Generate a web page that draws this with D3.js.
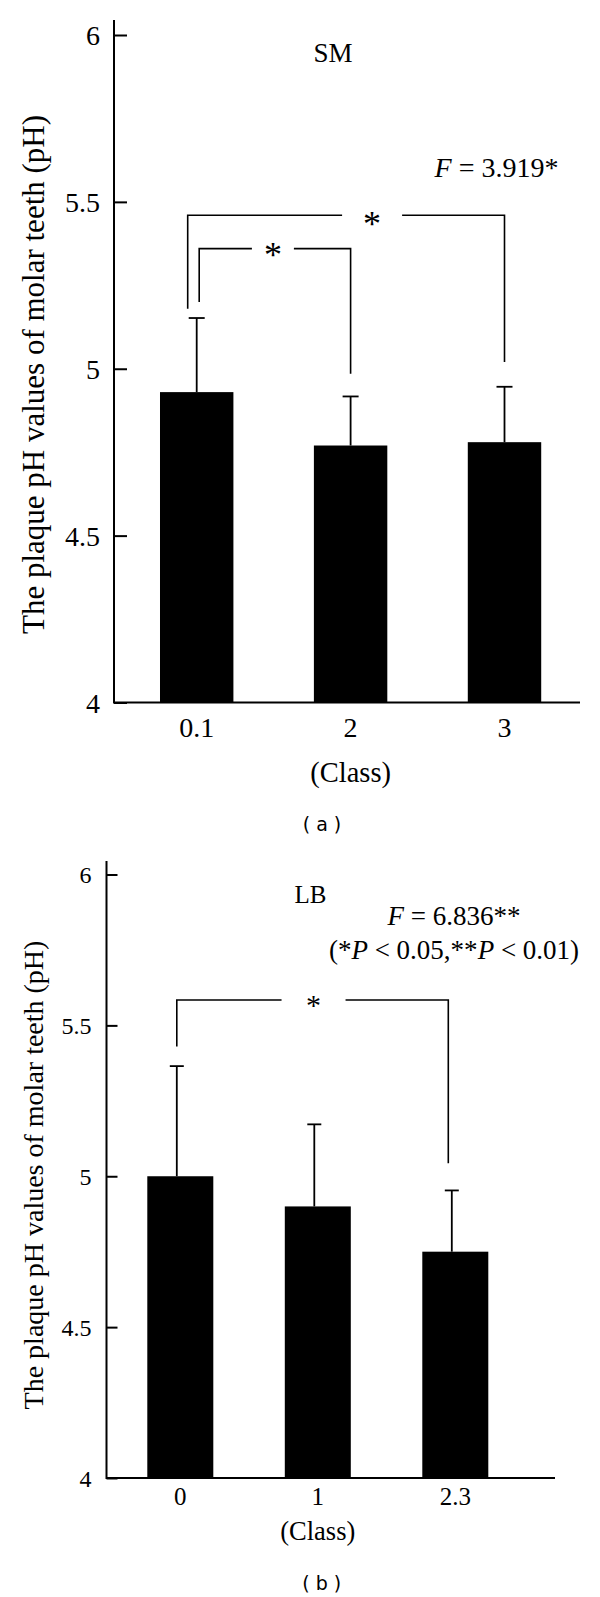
<!DOCTYPE html>
<html>
<head>
<meta charset="utf-8">
<script src="https://cdn.jsdelivr.net/npm/d3@7"></script>
<style>
 body { margin: 0; background: #fff; }
</style>
</head>
<body>
<script>
'use strict'

// Panel (a) - SM
const classesA = ["0.1", "2", "3"];
const meansA = [4.93, 4.77, 4.78];
const sdA = [0.222, 0.147, 0.166];
// brackets: [from bar, to bar, level, left end, right end]
const bracketsA = [
 [0, 1, 5.36, 5.20, 4.985],
 [0, 2, 5.46, 5.18, 5.02]
];

// Panel (b) - LB
const classesB = ["0", "1", "2.3"];
const meansB = [5.00, 4.90, 4.75];
const sdB = [0.365, 0.272, 0.203];
const bracketsB = [
 [0, 2, 5.584, 5.43, 5.043]
];

const yTicks = [4, 4.5, 5, 5.5, 6];
const yLabel = "The plaque pH values of molar teeth (pH)";

const serif = "'Liberation Serif', 'Times New Roman', serif";

let svg = d3.select("body").append("svg")
 .attr("width", 600)
 .attr("height", 1597);

// draw one bar chart panel
function drawPanel(p) {
 let g = svg.append("g");

 let x = d3.scaleBand().domain(p.classes).range(p.xRange)
  .paddingInner(p.pad).paddingOuter(p.pad / 2);
 let y = d3.scaleLinear().domain([4, 6]).range(p.yRange);
 let cx = i => x(p.classes[i]) + x.bandwidth() / 2;

 // bars
 g.selectAll("rect").data(p.means).join("rect")
  .attr("x", (d, i) => x(p.classes[i]))
  .attr("y", d => y(d))
  .attr("width", x.bandwidth())
  .attr("height", d => y(4) - y(d))
  .attr("fill", "#000");

 // error bars, upper half only
 p.means.forEach((m, i) => {
  let ex = cx(i) + p.errDx;
  g.append("line")
   .attr("x1", ex).attr("x2", ex)
   .attr("y1", y(m)).attr("y2", y(m + p.sd[i]))
   .attr("stroke", "#000").attr("stroke-width", 1.8);
  g.append("line")
   .attr("x1", ex - p.cap).attr("x2", ex + p.cap)
   .attr("y1", y(m + p.sd[i])).attr("y2", y(m + p.sd[i]))
   .attr("stroke", "#000").attr("stroke-width", 1.8);
 });

 // y axis: ticks point inward, labels on the left
 let yAxis = d3.axisLeft(y).tickValues(yTicks).tickSize(-p.tick)
  .tickPadding(p.yPad).tickFormat(d3.format("~g"));
 let ya = g.append("g")
  .attr("transform", "translate(" + p.xRange0 + ",0)")
  .call(yAxis);
 ya.select(".domain").remove();
 ya.selectAll("line").attr("stroke-width", 2);
 ya.selectAll("text")
  .style("font-family", serif)
  .style("font-size", p.tickFont + "px")
  .attr("dy", "0.35em");
 g.append("line")
  .attr("x1", p.xRange0).attr("x2", p.xRange0)
  .attr("y1", p.axisTop).attr("y2", y(4) + 1)
  .attr("stroke", "#000").attr("stroke-width", 2);

 // x axis
 let xAxis = d3.axisBottom(x).tickSize(0).tickPadding(p.xPad);
 let xa = g.append("g")
  .attr("transform", "translate(0," + y(4) + ")")
  .call(xAxis);
 xa.select(".domain").remove();
 xa.selectAll("text")
  .style("font-family", serif)
  .style("font-size", p.xTickFont + "px");
 g.append("line")
  .attr("x1", p.xRange0).attr("x2", p.axisEnd)
  .attr("y1", y(4)).attr("y2", y(4))
  .attr("stroke", "#000").attr("stroke-width", 2);

 // axis titles
 g.append("text")
  .attr("transform", "translate(" + p.yLabelX + "," + p.yLabelY + ") rotate(-90)")
  .attr("text-anchor", "middle")
  .style("font-family", serif)
  .style("font-size", p.yLabelFont + "px")
  .text(yLabel);
 g.append("text")
  .attr("x", cx(1)).attr("y", p.classY)
  .attr("text-anchor", "middle")
  .style("font-family", serif)
  .style("font-size", p.classFont + "px")
  .text("(Class)");

 // significance brackets
 p.brackets.forEach((b, k) => {
  let x1 = cx(b[0]) + p.bDx[k][0];
  let x2 = cx(b[1]) + p.bDx[k][1];
  let ly = y(b[2]);
  let sx = (x1 + x2) / 2 + p.starDx[k];
  let gap = p.gap[k];
  let path = "M" + x1 + "," + y(b[3]) + "V" + ly + "H" + (sx - gap)
   + "M" + (sx + gap) + "," + ly + "H" + x2 + "V" + y(b[4]);
  g.append("path").attr("d", path)
   .attr("fill", "none").attr("stroke", "#000").attr("stroke-width", 1.6);
  g.append("text")
   .attr("x", sx).attr("y", ly + p.starFont * 0.5 + p.starDy[k])
   .attr("text-anchor", "middle")
   .style("font-family", serif)
   .style("font-size", p.starFont + "px")
   .text("*");
 });

 // group name
 g.append("text")
  .attr("x", p.name[1]).attr("y", p.name[2])
  .attr("text-anchor", "middle")
  .style("font-family", serif)
  .style("font-size", p.nameFont + "px")
  .text(p.name[0]);

 // statistics text
 p.stats.forEach(s => {
  let t = g.append("text")
   .attr("x", s.x).attr("y", s.y)
   .attr("text-anchor", "middle")
   .style("font-family", serif)
   .style("font-size", p.statFont + "px");
  s.parts.forEach(part => {
   t.append("tspan")
    .style("font-style", part[1] ? "italic" : "normal")
    .text(part[0]);
  });
 });

 // panel letter
 g.append("text")
  .attr("x", p.letter[1]).attr("y", p.letter[2])
  .attr("text-anchor", "middle")
  .style("font-family", "'DejaVu Sans', sans-serif")
  .style("font-size", "19px")
  .text(p.letter[0]);
}

drawPanel({
 classes: classesA, means: meansA, sd: sdA, brackets: bracketsA,
 xRange: [119.75, 581.45], pad: 0.523, yRange: [702.5, 35],
 xRange0: 114, axisTop: 20, axisEnd: 580,
 tick: 13, yPad: 14, xPad: 15, tickFont: 28, xTickFont: 28,
 errDx: 0, cap: 8,
 yLabelX: 43.5, yLabelY: 374.5, yLabelFont: 31,
 classY: 782, classFont: 28.5,
 bDx: [[2.5, 0], [-9, 0]], starDx: [-2, 26], gap: [21, 30], starDy: [0, 3], starFont: 36,
 name: ["SM", 333, 62], nameFont: 27,
 statFont: 28,
 stats: [{ x: 496.5, y: 177, parts: [["F", true], [" = 3.919*", false]] }],
 letter: ["( a )", 322, 831]
});

drawPanel({
 classes: classesB, means: meansB, sd: sdB, brackets: bracketsB,
 xRange: [111.55, 524.05], pad: 0.52, yRange: [1478, 874.5],
 xRange0: 106.5, axisTop: 861, axisEnd: 555,
 tick: 11, yPad: 15, xPad: 9, tickFont: 24, xTickFont: 25,
 errDx: -3.5, cap: 7,
 yLabelX: 43, yLabelY: 1175, yLabelFont: 28,
 classY: 1540, classFont: 26.5,
 bDx: [[-3.5, -7]], starDx: [1], gap: [32], starDy: [0], starFont: 30,
 name: ["LB", 310.5, 903], nameFont: 25,
 statFont: 27,
 stats: [
  { x: 454, y: 925, parts: [["F", true], [" = 6.836**", false]] },
  { x: 454, y: 959, parts: [["(*", false], ["P", true], [" < 0.05,**", false], ["P", true], [" < 0.01)", false]] }
 ],
 letter: ["( b )", 321.7, 1590]
});
</script>
</body>
</html>
